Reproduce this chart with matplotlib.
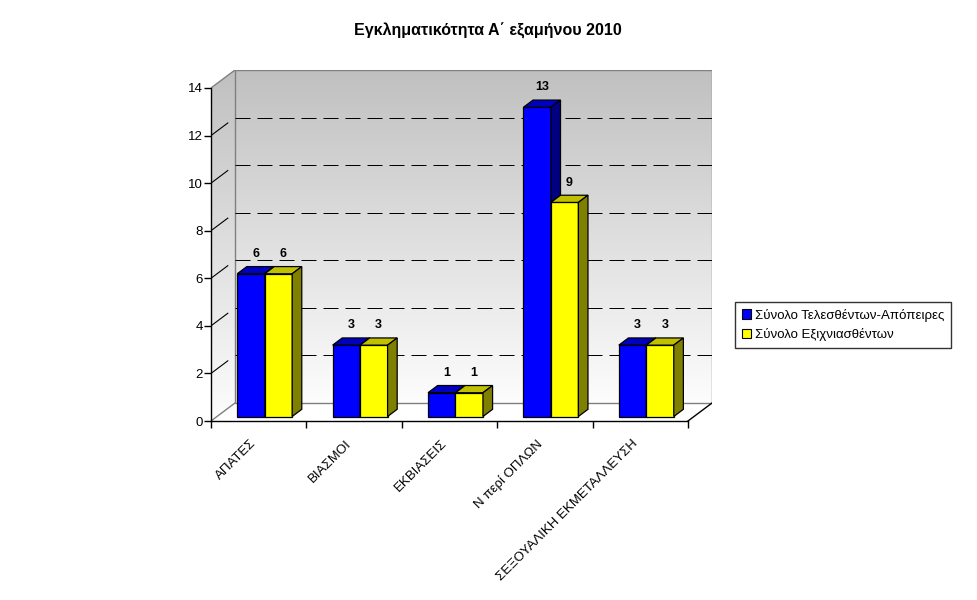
import numpy as np
import matplotlib
matplotlib.use("Agg")
import matplotlib.pyplot as plt
from matplotlib.patches import Polygon, Patch
from matplotlib.colors import LinearSegmentedColormap
from matplotlib.transforms import ScaledTranslation

plt.rcParams["font.family"] = ["Liberation Sans", "DejaVu Sans"]

TITLE = "Εγκληματικότητα Α΄ εξαμήνου 2010"
categories = ["ΑΠΑΤΕΣ", "ΒΙΑΣΜΟΙ", "ΕΚΒΙΑΣΕΙΣ", "Ν περί ΟΠΛΩΝ", "ΣΕΞΟΥΑΛΙΚΗ ΕΚΜΕΤΑΛΛΕΥΣΗ"]
series_names = ["Σύνολο Τελεσθέντων-Απόπειρες", "Σύνολο Εξιχνιασθέντων"]
total = [6, 3, 1, 13, 3]
solved = [6, 3, 1, 9, 3]
yticks = [0, 2, 4, 6, 8, 10, 12, 14]

# colours: front, top, side
FACES = [("#0000ff", "#0000c0", "#000080"), ("#ffff00", "#c0c000", "#808000")]

# fake 3d depth in data units
DX, DY = 0.2516, 0.756
YMAX = 14
BAR_W = 0.288
FB = 0.25   # depth fraction of bar front
BD = 0.40   # depth fraction of bar thickness


def box(ax, x0, x1, y0, y1, colors, z):
    ox, oy = BD * DX, BD * DY
    front, top, side = colors
    kw = dict(edgecolor="black", linewidth=0.9, zorder=z, joinstyle="miter")
    ax.add_patch(Polygon([(x0, y0), (x1, y0), (x1, y1), (x0, y1)], facecolor=front, **kw))
    ax.add_patch(Polygon([(x0, y1), (x1, y1), (x1 + ox, y1 + oy), (x0 + ox, y1 + oy)], facecolor=top, **kw))
    ax.add_patch(Polygon([(x1, y0), (x1 + ox, y0 + oy), (x1 + ox, y1 + oy), (x1, y1)], facecolor=side, **kw))


fig = plt.figure(figsize=(9.77, 6.0), dpi=100)
ax = fig.add_axes([211 / 977, 179 / 600, 501 / 977, 351 / 600])
ax.set_facecolor("none")
n = len(categories)
xl, xr = -0.5, n - 0.5

grad = np.linspace(0, 1, 256)[:, None]
cmap = LinearSegmentedColormap.from_list("wall", ["#c0c0c0", "#fdfdfd"])

# back wall
ax.imshow(grad, cmap=cmap, aspect="auto", extent=(xl + DX, xr + DX, DY, YMAX + DY), zorder=0)
ax.add_patch(Polygon([(xl + DX, DY), (xr + DX, DY), (xr + DX, YMAX + DY), (xl + DX, YMAX + DY)],
                     closed=True, fill=False, edgecolor="#808080", linewidth=1, zorder=2))
# side wall
side_poly = Polygon([(xl, 0), (xl + DX, DY), (xl + DX, YMAX + DY), (xl, YMAX)],
                    closed=True, transform=ax.transData)
im = ax.imshow(grad, cmap=cmap, aspect="auto", extent=(xl, xl + DX, 0, YMAX + DY), zorder=0)
im.set_clip_path(side_poly)
ax.plot([xl, xl + DX], [0, DY], color="#808080", lw=1, zorder=2)
ax.plot([xl, xl + DX], [YMAX, YMAX + DY], color="#808080", lw=1, zorder=2)
# floor
ax.add_patch(Polygon([(xl, 0), (xr, 0), (xr + DX, DY), (xl + DX, DY)], closed=True,
                     facecolor="white", edgecolor="none", zorder=1))
ax.plot([xr, xr + DX], [0, DY], color="black", lw=1, zorder=2)

# gridlines on back wall + diagonals on side wall
for v in yticks[1:-1]:
    ax.plot([xl + DX, xr + DX], [v + DY, v + DY], color="black", lw=0.72,
            linestyle=(0, (15, 7)), zorder=2)
    ax.plot([xl, xl + 0.7 * DX], [v, v + 0.7 * DY], color="black", lw=0.8, zorder=2)

# bars
x = np.arange(n)
for i in range(n):
    for s, vals in enumerate([total, solved]):
        x0 = x[i] + FB * DX - BAR_W + s * BAR_W
        x1 = x0 + BAR_W
        y0 = FB * DY
        y1 = vals[i] + FB * DY
        box(ax, x0, x1, y0, y1, FACES[s], 5 + i * 2 + s)
        ax.annotate(str(vals[i]), ((x0 + x1) / 2 + 0.5 * BD * DX, y1), xytext=(0, 10),
                    textcoords="offset points", ha="center", va="bottom",
                    fontsize=9, fontweight="bold", zorder=20)

ax.set_xlim(xl, xr + DX)
ax.set_ylim(0, YMAX + DY)
for sp in ["top", "right"]:
    ax.spines[sp].set_visible(False)
ax.spines["left"].set_bounds(0, YMAX)
ax.spines["bottom"].set_bounds(xl, xr)
for sp in ["left", "bottom"]:
    ax.spines[sp].set_linewidth(1)
    ax.spines[sp].set_zorder(30)

ax.set_yticks(yticks)
ax.set_yticklabels([str(t) for t in yticks], fontsize=9.5)
ax.tick_params(axis="y", length=5, width=1, pad=1)
ax.set_xticks(np.arange(n + 1) - 0.5)
ax.set_xticklabels([])
ax.tick_params(axis="x", which="major", length=5, width=1)
ax.set_xticks(x, minor=True)
ax.set_xticklabels(categories, minor=True, rotation=45, ha="right",
                   rotation_mode="anchor", fontsize=9.5)
ax.tick_params(axis="x", which="minor", length=0, pad=12)
shift = ScaledTranslation(-9 / 100, 0, fig.dpi_scale_trans)
for lab in ax.get_xticklabels(minor=True):
    lab.set_transform(lab.get_transform() + shift)

fig.text(488 / 977, 1 - 31 / 600, TITLE, ha="center", va="center", fontsize=11.5, fontweight="bold")

handles = [Patch(facecolor=FACES[k][0], edgecolor="black", linewidth=0.8) for k in range(2)]
leg = fig.legend(handles, series_names, loc="upper left", bbox_to_anchor=(735 / 977, 1 - 302 / 600),
                 fontsize=9.5, frameon=True, fancybox=False, borderaxespad=0, handlelength=0.7,
                 handleheight=0.7, handletextpad=0.3, borderpad=0.5, labelspacing=0.5)
leg.get_frame().set_edgecolor("black")
leg.get_frame().set_linewidth(1)

fig.savefig("out.png", dpi=100)
